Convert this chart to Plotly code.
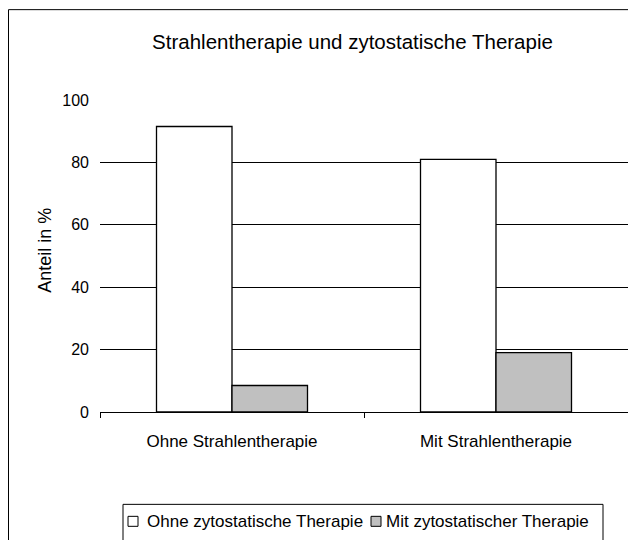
import plotly.graph_objects as go

categories = ["Ohne Strahlentherapie", "Mit Strahlentherapie"]
series_names = ["Ohne zytostatische Therapie", "Mit zytostatischer Therapie"]
ohne_zyto = [91.5, 81.0]
mit_zyto = [8.5, 19.0]
y_ticks = [0, 20, 40, 60, 80, 100]

OFF = 8  # page body margin
W, H = 636 - OFF, 540 - OFF
# plot area in page pixels
PL, PR, PT, PB = 100, 628, 100, 412.5
L, R, T, B = PL - OFF, W - (PR - OFF), PT - OFF, H - (PB - OFF)
PW, PH = PR - PL, PB - PT


def px(x):
    return (x - PL) / PW


def py(y):
    return (PB - y) / PH


FONT = "Liberation Sans, Arial, sans-serif"
xpos = list(range(len(categories)))

fig = go.Figure()
fig.add_trace(go.Bar(x=xpos, y=ohne_zyto, name=series_names[0],
                     marker=dict(color="#FFFFFF", line=dict(color="#000000", width=1.3)),
                     showlegend=False))
fig.add_trace(go.Bar(x=xpos, y=mit_zyto, name=series_names[1],
                     marker=dict(color="#C0C0C0", line=dict(color="#000000", width=1.3)),
                     showlegend=False))

x_end = -0.5 + PW / 264.0

fig.update_layout(
    width=W, height=H,
    margin=dict(l=L, r=R, t=T, b=B, autoexpand=False),
    paper_bgcolor="white", plot_bgcolor="white",
    font=dict(family=FONT, size=16, color="#000000"),
    barmode="group", bargap=0.428, bargroupgap=0,
    title=dict(text="Strahlentherapie und zytostatische Therapie",
               x=px(352.5), xref="paper", xanchor="center",
               y=1 - (42 - OFF) / H, yref="container", yanchor="middle",
               font=dict(size=20.5, family=FONT, color="#000000")),
    xaxis=dict(range=[-0.5, x_end], tickmode="array", tickvals=xpos, ticktext=categories,
               ticks="", showgrid=False, zeroline=False,
               showline=True, linecolor="#000000", linewidth=1,
               ticklabelstandoff=14, tickfont=dict(size=17),
               minor=dict(tickmode="array", tickvals=[-0.5, 0.5, x_end], ticks="outside",
                          ticklen=5, tickcolor="#000000", tickwidth=1, showgrid=False)),
    yaxis=dict(range=[0, 100], tickmode="array", tickvals=y_ticks,
               showgrid=True, gridcolor="#000000", gridwidth=1, zeroline=False,
               showline=False, ticks="", ticklabelstandoff=10, tickfont=dict(size=16)),
)

fig.add_annotation(text="Anteil in %", xref="paper", yref="paper",
                   x=px(45), y=py(251), textangle=-90, showarrow=False,
                   xanchor="center", yanchor="middle", font=dict(size=18, family=FONT))

# outer chart border
fig.add_shape(type="rect", xref="paper", yref="paper",
              x0=px(8.5), y0=py(560), x1=px(660), y1=py(9.5),
              line=dict(color="#000000", width=1), fillcolor="rgba(0,0,0,0)", layer="below")

# legend box
fig.add_shape(type="rect", xref="paper", yref="paper",
              x0=px(123), y0=py(560), x1=px(603), y1=py(505),
              line=dict(color="#000000", width=1), fillcolor="rgba(0,0,0,0)")

legend_items = [
    (128, "#FFFFFF", 145, series_names[0]),
    (371, "#C0C0C0", 384, series_names[1]),
]
for sx, col, tx, label in legend_items:
    fig.add_shape(type="rect", xref="paper", yref="paper",
                  x0=px(sx), y0=py(527), x1=px(sx + 10), y1=py(517),
                  line=dict(color="#000000", width=1), fillcolor=col)
    fig.add_annotation(text=label, xref="paper", yref="paper",
                       x=px(tx), y=py(522), xanchor="left", yanchor="middle",
                       showarrow=False, font=dict(size=17, family=FONT))

fig.write_html("out.html")
